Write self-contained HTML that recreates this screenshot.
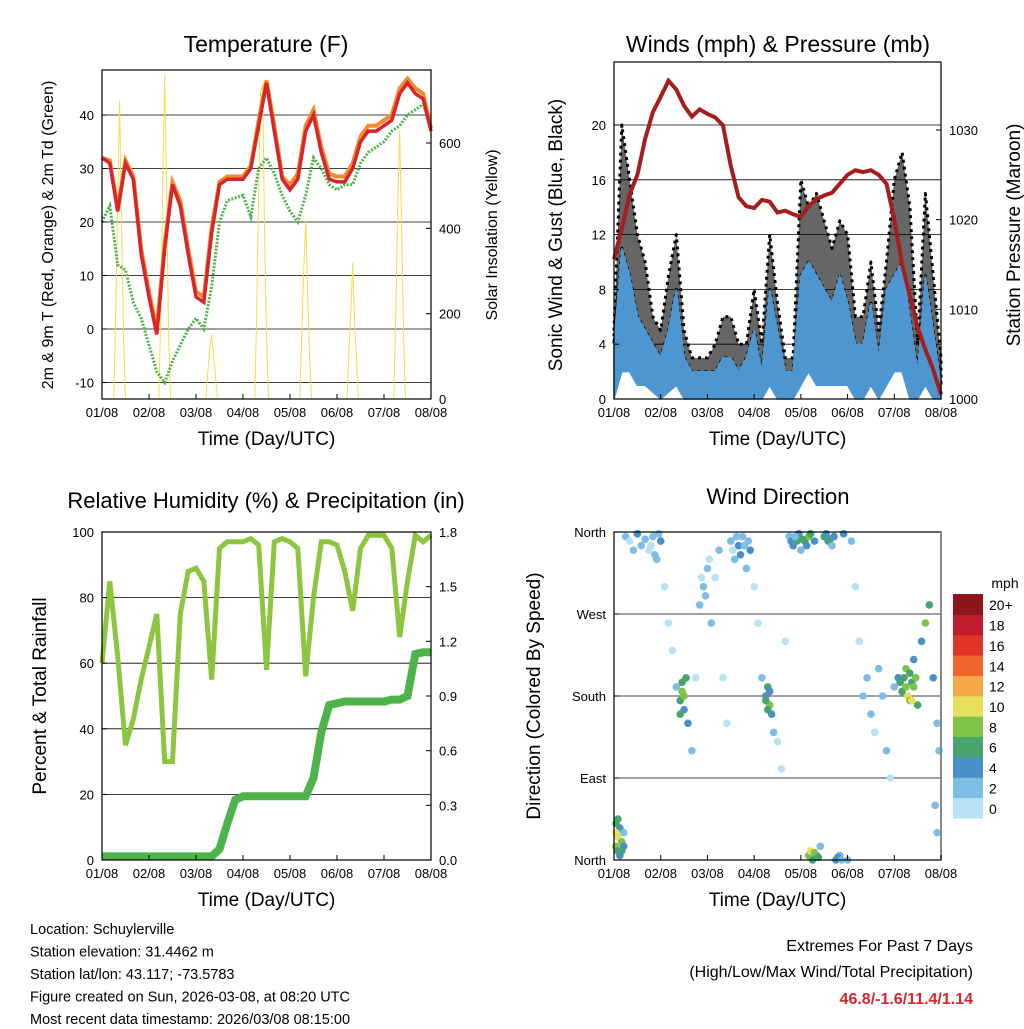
<!DOCTYPE html>
<html><head><meta charset="utf-8">
<style>
body{margin:0;background:#fff;}
svg text{font-family:"Liberation Sans",sans-serif;fill:#000;}
</style></head>
<body>
<svg id="s" width="1024" height="1024" viewBox="0 0 1024 1024" xmlns="http://www.w3.org/2000/svg">
<rect width="1024" height="1024" fill="#fff"/>
</svg>
<script>
const xTickLabels=["01/08","02/08","03/08","04/08","05/08","06/08","07/08","08/08"];
const hours4=[0,4,8,12,16,20,24,28,32,36,40,44,48,52,56,60,64,68,72,76,80,84,88,92,96,100,104,108,112,116,120,124,128,132,136,140,144,148,152,156,160,164,168];
const tempRed=[32,31,22,31,28,14,6,-1,15,27,23,14,6,5,18,27,28,28,28,30,38,46,37,28,26,28,37,40,33,28,27.5,27.5,30,35,37,37,38,39,44,46,44,43,37];
const tempOrange=[32,31.5,22.5,31.5,28.5,15,7,0,16,27.5,24,15,7,6,19,27.5,28.5,28.5,28.5,30.5,39,46.5,38,28.5,27,29,38,41,34,29,28.5,28.5,31,36,38,38,39,40,45,46.8,45,44,37.5];
const dewGreen=[20,23,12,11,5,2,-3,-8,-10,-6,-3,0,2,0,8,20,24,24.5,25,21,30,32,29,25,22,20,25,32,30,27,26,27,27,31,33,34,35,37,38,40,41,42,38];
const solarHours=[0,6,7,8,9,10,11,12,29,30,31,32,33,34,35,53,55,56,57,59,78,79,80,81,82,83,84,85,101,102,103,104,105,106,107,125,127,128,129,131,149,150,151,152,153,154,155,168];
const solarVals=[0,0,200,450,700,400,150,0,0,200,500,760,500,150,0,0,120,150,100,0,0,200,500,720,740,400,150,0,0,150,300,420,250,100,0,0,200,320,180,0,0,200,450,630,400,150,0,0];
const windLow=[0,2,2,1,1,0.5,0,0.5,1,0,0,0,0,0,0,0,0,0,0,0,1,0,0,0,1,2,1,1,1,1,1,0,0,1,0,1,2,2,0,0,1,0,0];
const windHigh=[4,11,9,6,5,4,3,5,8,3,2,2,2,2,3,3,2,3,5,2,8,5,2,2,9,10,9,8,7,9,7,4,4,7,3,8,9,10,6,2,9,5,1];
const gustMax=[5,20,16,12,10,6,5,9,12,5,3,3,3,4,6,6,4,4,8,4,12,7,3,3,16,14,15,13,11,13,12,6,6,10,5,10,16,18,14,4,15,9,3];
const pressure=[1015.6,1019,1022.8,1025,1029,1032,1033.7,1035.5,1034.5,1032.7,1031.5,1032.3,1031.8,1031.4,1030.5,1026,1022.5,1021.5,1021.3,1022.2,1022,1020.8,1021,1020.6,1020.3,1021.5,1022.3,1022.7,1023,1024,1025,1025.5,1025.3,1025.5,1025,1024,1020,1015,1011.5,1008,1005.5,1003.3,1000.5];
const rhVals=[60,85,62,35,43,55,65,75,30,30,75,88,89,85,55,95,97,97,97,98,96,58,97,98,97,95,56,80,97,97,96,88,76,95,99,99,99,95,68,85,99,97,99];
const precipVals=[0.02,0.02,0.02,0.02,0.02,0.02,0.02,0.02,0.02,0.02,0.02,0.02,0.02,0.02,0.02,0.06,0.2,0.33,0.35,0.35,0.35,0.35,0.35,0.35,0.35,0.35,0.35,0.45,0.7,0.85,0.86,0.87,0.87,0.87,0.87,0.87,0.87,0.88,0.88,0.9,1.13,1.14,1.14];
const dirPoints=[[1,15,8],[2,25,10],[2,10,6],[3,35,4],[1,40,6],[4,20,8],[3,5,4],[5,30,2],[2,45,6],[1,30,10],[4,10,6],[5,15,4],[6,355,2],[8,350,0],[10,340,2],[12,358,4],[14,345,2],[16,352,2],[18,340,0],[20,355,2],[22,330,2],[24,350,4],[19,345,0],[21,335,2],[23,358,2],[26,300,0],[28,260,0],[30,230,0],[32,190,2],[34,175,6],[35,185,8],[36,165,4],[37,200,6],[38,150,4],[34,160,6],[36,180,7],[35,195,6],[40,120,2],[42,200,0],[44,280,2],[46,300,2],[48,320,2],[50,260,2],[45,310,0],[47,290,2],[49,330,0],[52,310,0],[54,340,2],[56,200,0],[58,150,0],[60,350,2],[62,330,2],[64,345,4],[66,355,2],[68,320,2],[70,340,4],[61,340,0],[63,355,2],[65,335,4],[67,345,2],[69,350,2],[72,300,0],[74,260,0],[76,200,2],[78,180,4],[79,190,6],[80,170,8],[81,160,4],[82,140,2],[78,175,6],[80,185,4],[79,165,6],[84,130,0],[86,100,0],[88,240,0],[90,355,2],[92,345,4],[94,350,6],[95,358,4],[96,340,2],[98,350,6],[100,355,8],[91,350,4],[93,355,2],[97,352,6],[99,345,4],[101,358,6],[103,350,4],[100,5,8],[101,10,10],[102,0,6],[104,5,4],[106,15,2],[103,8,8],[105,3,6],[108,355,6],[110,350,4],[112,345,2],[109,358,4],[111,352,6],[113,355,4],[114,0,4],[116,5,2],[118,358,4],[115,3,4],[117,0,2],[120,0,2],[122,350,2],[124,300,0],[126,240,0],[128,180,2],[130,200,2],[132,160,2],[134,140,0],[136,210,2],[138,180,2],[140,120,2],[142,90,0],[144,190,2],[146,200,4],[148,185,6],[150,210,8],[151,180,10],[152,175,8],[153,195,6],[154,220,4],[155,200,8],[156,170,6],[147,195,6],[149,200,6],[150,190,8],[152,205,6],[154,190,8],[153,175,10],[158,240,4],[160,260,8],[162,280,6],[164,200,4],[166,150,2],[167,120,2],[165,60,2],[166,30,2]];
const speedLabels=["0","2","4","6","8","10","12","14","16","18","20+"];
const speedColors=["#b8e3f6","#7dbde6","#4a90c8","#48a46d","#7fc24a","#e8e05a","#f7a84a","#f2652a","#e03527","#be1e2d","#8e1519"];

const S=document.getElementById('s');
const NS="http://www.w3.org/2000/svg";
function mk(tag,attrs,parent){const e=document.createElementNS(NS,tag);for(const k in attrs)e.setAttribute(k,attrs[k]);(parent||S).appendChild(e);return e;}
function txt(x,y,str,size,anchor,parent,extra){const t=mk('text',Object.assign({x:x,y:y,'font-size':size,'text-anchor':anchor||'middle'},extra||{}),parent);t.textContent=str;return t;}
function lin(d0,d1,r0,r1){return v=>r0+(v-d0)*(r1-r0)/(d1-d0);}
function pathOf(xs,ys,fx,fy){return xs.map((x,i)=>(i?'L':'M')+fx(x).toFixed(1)+','+fy(ys[i]).toFixed(1)).join('');}
function bandOf(xs,lo,hi,fx,fy){let d=xs.map((x,i)=>(i?'L':'M')+fx(x).toFixed(1)+','+fy(hi[i]).toFixed(1)).join('');for(let i=xs.length-1;i>=0;i--)d+='L'+fx(xs[i]).toFixed(1)+','+fy(lo[i]).toFixed(1);return d+'Z';}

function panel(name){
  const g=mk('g',{});
  
  
  return g;
}
function frame(g,x0,y0,x1,y1){const r=mk('rect',{x:x0,y:y0,width:x1-x0,height:y1-y0,fill:'none',stroke:'#000','stroke-width':1.2},g);}
function xAxis(g,fx,y1){
  const ax=mk('g',{},g);
  xTickLabels.forEach((l,i)=>{const x=fx(i*24);mk('line',{x1:x,x2:x,y1:y1,y2:y1-5,stroke:'#000'},ax);txt(x,y1+18,l,13,'middle',ax);});
  const t=txt(fx(84),y1+46,'Time (Day/UTC)',19,'middle',ax);
}
function grid(g,x0,x1,ys){ys.forEach(y=>mk('line',{x1:x0,x2:x1,y1:y,y2:y,stroke:'#000','stroke-width':0.8},g));}

// ---------- Panel 1: Temperature ----------
(function(){
  const x0=102,x1=431,y0=70,y1=399;
  const g=panel('temperature-panel');
  const fx=lin(0,168,x0,x1), fy=lin(0,40,329,115), fs=lin(0,600,399,143);
  grid(g,x0,x1,[-10,0,10,20,30,40].map(fy));
  const sol=mk('path',{d:pathOf(solarHours,solarVals,fx,fs),fill:'none',stroke:'#f5dc50','stroke-width':1},g);
  
  const gr=mk('path',{d:pathOf(hours4,dewGreen,fx,fy),fill:'none',stroke:'#4db34a','stroke-width':3,'stroke-dasharray':'2 1.5'},g);
  
  const or=mk('path',{d:pathOf(hours4,tempOrange,fx,fy),fill:'none',stroke:'#f28a2e','stroke-width':4},g);
  
  const rd=mk('path',{d:pathOf(hours4,tempRed,fx,fy),fill:'none',stroke:'#d7262a','stroke-width':3.5},g);
  
  frame(g,x0,y0,x1,y1);
  [-10,0,10,20,30,40].forEach(v=>{mk('line',{x1:x0,x2:x0+5,y1:fy(v),y2:fy(v),stroke:'#000'},g);txt(x0-8,fy(v)+5,String(v),13,'end',g);});
  [0,200,400,600].forEach(v=>{mk('line',{x1:x1,x2:x1-5,y1:fs(v),y2:fs(v),stroke:'#000'},g);txt(x1+8,fs(v)+5,String(v),13,'start',g);});
  xAxis(g,fx,y1);
  const tt=txt(266,52,'Temperature (F)',23,'middle',g);
  const yl=txt(0,0,'2m & 9m T (Red, Orange) & 2m Td (Green)',16,'middle',g,{transform:'translate(53,235) rotate(-90)'});
  const yr=txt(0,0,'Solar Insolation (Yellow)',16,'middle',g,{transform:'translate(497,235) rotate(-90)'});
})();

// ---------- Panel 2: Winds & Pressure ----------
(function(){
  const x0=614,x1=941,y0=62,y1=399;
  const g=panel('winds-panel');
  const fx=lin(0,168,x0,x1), fy=lin(0,20,399,125), fp=lin(1000,1030,399,130);
  grid(g,x0,x1,[4,8,12,16,20].map(fy));
  const gs=mk('path',{d:bandOf(hours4,windHigh,gustMax,fx,fy),fill:'#000','fill-opacity':0.6,stroke:'#000','stroke-width':3,'stroke-dasharray':'3 4','stroke-linejoin':'round'},g);
  
  const bl=mk('path',{d:bandOf(hours4,windLow,windHigh,fx,fy),fill:'#4e96d0',stroke:'#4e96d0','stroke-width':1.5},g);
  
  const pr=mk('path',{d:pathOf(hours4,pressure,fx,fp),fill:'none',stroke:'#a51d1d','stroke-width':4},g);
  
  frame(g,x0,y0,x1,y1);
  [0,4,8,12,16,20].forEach(v=>{mk('line',{x1:x0,x2:x0+5,y1:fy(v),y2:fy(v),stroke:'#000'},g);txt(x0-8,fy(v)+5,String(v),13,'end',g);});
  [1000,1010,1020,1030].forEach(v=>{mk('line',{x1:x1,x2:x1-5,y1:fp(v),y2:fp(v),stroke:'#000'},g);txt(x1+8,fp(v)+5,String(v),13,'start',g);});
  xAxis(g,fx,y1);
  const tt=txt(778,52,'Winds (mph) & Pressure (mb)',23,'middle',g);
  const yl=txt(0,0,'Sonic Wind & Gust (Blue, Black)',19,'middle',g,{transform:'translate(562,235) rotate(-90)'});
  const yr=txt(0,0,'Station Pressure (Maroon)',19,'middle',g,{transform:'translate(1020,235) rotate(-90)'});
})();

// ---------- Panel 3: RH & Precip ----------
(function(){
  const x0=102,x1=431,y0=532,y1=860;
  const g=panel('humidity-precip-panel');
  const fx=lin(0,168,x0,x1), fy=lin(0,100,860,532), fr=lin(0,1.8,860,532);
  grid(g,x0,x1,[20,40,60,80].map(fy));
  const rh=mk('path',{d:pathOf(hours4,rhVals,fx,fy),fill:'none',stroke:'#8cc63f','stroke-width':5},g);
  
  const pc=mk('path',{d:pathOf(hours4,precipVals,fx,fr),fill:'none',stroke:'#4db34a','stroke-width':8},g);
  
  frame(g,x0,y0,x1,y1);
  [0,20,40,60,80,100].forEach(v=>{mk('line',{x1:x0,x2:x0+5,y1:fy(v),y2:fy(v),stroke:'#000'},g);txt(x0-8,fy(v)+5,String(v),13,'end',g);});
  ['0.0','0.3','0.6','0.9','1.2','1.5','1.8'].forEach(v=>{const y=fr(+v);mk('line',{x1:x1,x2:x1-5,y1:y,y2:y,stroke:'#000'},g);txt(x1+8,y+5,v,13,'start',g);});
  xAxis(g,fx,y1);
  const tt=txt(266,508,'Relative Humidity (%) & Precipitation (in)',22,'middle',g);
  const yl=txt(0,0,'Percent & Total Rainfall',19,'middle',g,{transform:'translate(46,696) rotate(-90)'});
})();

// ---------- Panel 4: Wind Direction ----------
(function(){
  const x0=614,x1=941,y0=532,y1=860;
  const g=panel('wind-direction-panel');
  const fx=lin(0,168,x0,x1), fy=lin(0,360,860,532);
  grid(g,x0,x1,[90,180,270].map(fy));
  dirPoints.forEach(p=>{
    const ci=Math.min(10,Math.round(p[2]/2));
    const c=mk('circle',{cx:fx(p[0]),cy:fy(p[1]),r:3.8,fill:speedColors[ci]},g);
    
    
  });
  frame(g,x0,y0,x1,y1);
  mk('line',{x1:x1,x2:x1,y1:y0,y2:y1,stroke:'#888','stroke-width':2},g);
  [['North',0],['East',90],['South',180],['West',270],['North',360]].forEach(d=>{const y=fy(d[1]);mk('line',{x1:x0,x2:x0+5,y1:y,y2:y,stroke:'#000'},g);txt(x0-8,y+5,d[0],13,'end',g);});
  xAxis(g,fx,y1);
  const tt=txt(778,504,'Wind Direction',22,'middle',g);
  const yl=txt(0,0,'Direction (Colored By Speed)',19,'middle',g,{transform:'translate(540,696) rotate(-90)'});
  const lg=mk('g',{},g);
  const bh=(818-594)/11;
  speedColors.forEach((c,i)=>{const y=818-(i+1)*bh;mk('rect',{x:953,y:y,width:30,height:bh+0.5,fill:c},lg);txt(989,y+bh/2+6,speedLabels[i],14,'start',lg);});
  txt(1005,588,'mph',14,'middle',lg);
})();

// ---------- Footer text ----------
(function(){
  const g=mk('g',{});
  ['Location: Schuylerville','Station elevation: 31.4462 m','Station lat/lon: 43.117; -73.5783','Figure created on Sun, 2026-03-08, at 08:20 UTC','Most recent data timestamp: 2026/03/08 08:15:00'].forEach((s,i)=>txt(30,934+i*22.5,s,14.5,'start',g));
  const e=mk('g',{});
  txt(973,951,'Extremes For Past 7 Days',16,'end',e);
  txt(973,977,'(High/Low/Max Wind/Total Precipitation)',16,'end',e);
  const v=txt(973,1004,'46.8/-1.6/11.4/1.14',16,'end',e,{'font-weight':'bold'});v.style.fill='#d7262a';
})();
</script>
</body></html>
